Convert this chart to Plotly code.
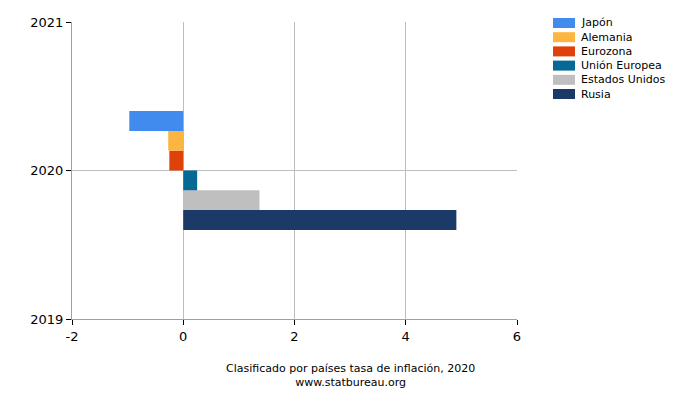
import plotly.graph_objs as go

# datos de inflación 2020 (por país)
paises = ['Japón', 'Alemania', 'Eurozona', 'Unión Europea', 'Estados Unidos', 'Rusia']
inflacion = [-0.97, -0.27, -0.25, 0.25, 1.37, 4.91]
colores = ['#428bee', '#fbb540', '#e0400a', '#066895', '#bfbfbf', '#1b3a68']
anio = [2020]

x_ticks = [-2, 0, 2, 4, 6]
y_ticks = [2019, 2020, 2021]

# área del gráfico en píxeles (la página añade 8px de margen al body)
O = 8
L, R, T, B = 72, 517, 22, 319
W, H = R - L, B - T

fig = go.Figure()

# se añaden al revés para que Japón quede arriba
for nombre, valor, color in reversed(list(zip(paises, inflacion, colores))):
    fig.add_trace(go.Bar(
        x=[valor], y=anio, name=nombre, orientation='h',
        marker=dict(color=color, line=dict(width=0)),
    ))

fig.update_layout(
    width=700, height=400,
    barmode='group', bargap=0.2, bargroupgap=0,
    plot_bgcolor='white', paper_bgcolor='white',
    margin=dict(l=L - O, r=700 - (R - O), t=T - O, b=400 - (B - O)),
    font=dict(family='DejaVu Sans', size=13, color='black'),
    showlegend=False,
)

# leyenda dibujada a mano (cuadros + texto)
for i, (nombre, color) in enumerate(zip(paises, colores)):
    yc = 23 + i * 14.2
    fig.add_shape(type='rect', xref='paper', yref='paper',
                  x0=(553 - L) / W, x1=(575 - L) / W,
                  y0=(B - (yc + 5)) / H, y1=(B - (yc - 5)) / H,
                  fillcolor=color, line=dict(width=0))
    fig.add_annotation(text=nombre, xref='paper', yref='paper',
                       x=(579 - L) / W, y=(B - yc) / H, xanchor='left', yanchor='middle',
                       showarrow=False, font=dict(size=11))

fig.add_annotation(text='Clasificado por países tasa de inflación, 2020<br>www.statbureau.org',
                   xref='paper', yref='paper', x=(350 - L) / W, y=-(376 - B) / H,
                   xanchor='center', yanchor='middle',
                   showarrow=False, font=dict(size=11))

fig.update_xaxes(
    range=[-2, 6], tickmode='array', tickvals=x_ticks, ticktext=[str(v) for v in x_ticks],
    showgrid=True, gridcolor='#bdbdbd', gridwidth=1,
    showline=True, linecolor='#a0a0a0', linewidth=1,
    ticks='outside', ticklen=5, tickcolor='black',
    zeroline=False, automargin=False,
)
fig.update_yaxes(
    range=[2019, 2021], tickmode='array', tickvals=y_ticks, ticktext=[str(v) for v in y_ticks],
    showgrid=True, gridcolor='#bdbdbd', gridwidth=1,
    showline=True, linecolor='#a0a0a0', linewidth=1,
    ticks='outside', ticklen=5, tickcolor='black',
    zeroline=False, automargin=False,
)

fig.write_html("out.html")
